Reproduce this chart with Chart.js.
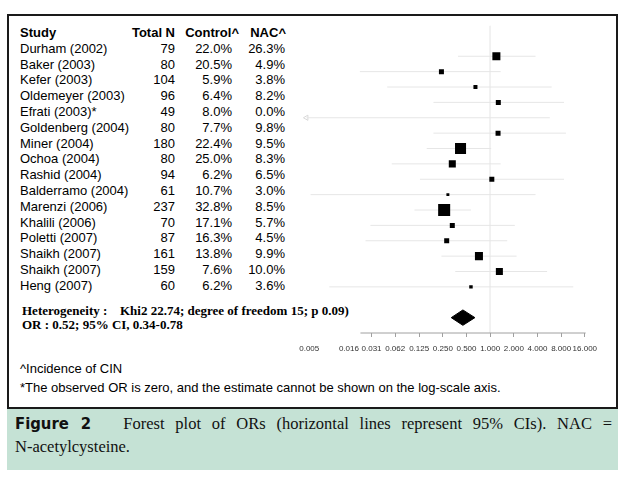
<!DOCTYPE html>
<html>
<head>
<meta charset="utf-8">
<script src="https://cdn.jsdelivr.net/npm/chart.js@4/dist/chart.umd.min.js"></script>
<style>
  body { margin: 0; background: #fff; width: 633px; height: 486px; position: relative; overflow: hidden; }
  #frame { position: absolute; left: 7px; top: 14px; width: 607px; height: 391px; border: 2px solid #1a1a1a; }
  .t { position: absolute; font: 13px "Liberation Sans", Arial, sans-serif; color: #000; line-height: 16px; white-space: nowrap; }
  .b { font-weight: bold; }
  .r { text-align: right; }
  .het { position: absolute; font: bold 13px "Liberation Serif", "Times New Roman", serif; line-height: 14px; white-space: nowrap; }
  #caption { position: absolute; left: 7px; top: 409px; width: 611px; height: 61px; background: #c5e2d5; }
  #captext { position: absolute; left: 8px; top: 3px; width: 597px; font: 16.5px "Liberation Serif", "Times New Roman", serif; line-height: 23px; text-align: justify; color: #111; }
  #captext b { font-family: "Liberation Sans Narrow", "DejaVu Sans Condensed", "Liberation Sans", sans-serif; font-stretch: condensed; font-weight: bold; }
  .nw { white-space: nowrap; }
  #plot { position: absolute; left: 292px; top: 17px; }
</style>
</head>
<body>
<div id="frame"></div>
<div id="table"></div>
<div class="het" style="left:22px; top:304px;">Heterogeneity :</div>
<div class="het" style="left:120px; top:304px;">Khi2 22.74; degree of freedom 15; p 0.09)</div>
<div class="het" style="left:22px; top:318px;">OR : 0.52; 95% CI, 0.34-0.78</div>
<div class="t" style="left:20px; top:361px;">^Incidence of CIN</div>
<div class="t" style="left:20px; top:380px;">*The observed OR is zero, and the estimate cannot be shown on the log-scale axis.</div>
<div id="caption"><div id="captext"><b>Figure 2</b>&nbsp;&nbsp; Forest plot of ORs (horizontal lines represent 95% CIs). NAC = <span class="nw">N-acetylcysteine.</span></div></div>
<canvas id="plot" width="325" height="342"></canvas>
<script>
// Данные исследований
const studies = ['Durham (2002)', 'Baker (2003)', 'Kefer (2003)', 'Oldemeyer (2003)', 'Efrati (2003)*',
  'Goldenberg (2004)', 'Miner (2004)', 'Ochoa (2004)', 'Rashid (2004)', 'Balderramo (2004)',
  'Marenzi (2006)', 'Khalili (2006)', 'Poletti (2007)', 'Shaikh (2007)', 'Shaikh (2007)', 'Heng (2007)'];
const totalN = [79, 80, 104, 96, 49, 80, 180, 80, 94, 61, 237, 70, 87, 161, 159, 60];
const controlPct = [22.0, 20.5, 5.9, 6.4, 8.0, 7.7, 22.4, 25.0, 6.2, 10.7, 32.8, 17.1, 16.3, 13.8, 7.6, 6.2];
const nacPct = [26.3, 4.9, 3.8, 8.2, 0.0, 9.8, 9.5, 8.3, 6.5, 3.0, 8.5, 5.7, 4.5, 9.9, 10.0, 3.6];

// OR и 95% ДИ (Efrati: OR = 0, не показывается)
const oddsRatio = [1.20, 0.24, 0.65, 1.27, null, 1.26, 0.42, 0.33, 1.05, 0.29, 0.26, 0.33, 0.28, 0.72, 1.31, 0.57];
const ciLower = [0.39, 0.022, 0.049, 0.19, 0.0046, 0.19, 0.156, 0.056, 0.128, 0.0052, 0.109, 0.030, 0.026, 0.24, 0.36, 0.009];
const ciUpper = [3.78, 1.36, 6.06, 8.7, 5.74, 9.2, 1.03, 1.36, 8.7, 3.78, 0.57, 2.06, 1.65, 2.17, 5.3, 11.4];
const weights = [9.5, 3.7, 2.4, 3.7, 0, 3.7, 18.0, 7.3, 3.7, 1.3, 21.4, 3.7, 3.7, 9.5, 7.3, 1.8];

// Сводная оценка (ромб): нижняя граница, центр, верхняя граница
const pooled = [0.32, 0.45, 0.64];

const tickValues = [0.005, 0.016, 0.031, 0.062, 0.125, 0.25, 0.5, 1, 2, 4, 8, 16];
const tickLabels = ['0.005', '0.016', '0.031', '0.062', '0.125', '0.250', '0.500', '1.000', '2.000', '4.000', '8.000', '16.000'];
const axisRange = [0.0224, 16.4];

// Таблица слева
const rowTop = y => 48.7 + 15.8 * y - 8;
let html = '';
html += `<div class="t b" style="left:20px;top:${rowTop(-1)}px">Study</div>`;
html += `<div class="t b r" style="right:${633 - 175}px;top:${rowTop(-1)}px">Total N</div>`;
html += `<div class="t b r" style="right:${633 - 239}px;top:${rowTop(-1)}px">Control^</div>`;
html += `<div class="t b r" style="right:${633 - 286}px;top:${rowTop(-1)}px">NAC^</div>`;
studies.forEach((s, i) => {
  html += `<div class="t" style="left:20px;top:${rowTop(i)}px">${s}</div>`;
  html += `<div class="t r" style="right:${633 - 175}px;top:${rowTop(i)}px">${totalN[i]}</div>`;
  html += `<div class="t r" style="right:${633 - 232}px;top:${rowTop(i)}px">${controlPct[i].toFixed(1)}%</div>`;
  html += `<div class="t r" style="right:${633 - 285}px;top:${rowTop(i)}px">${nacPct[i].toFixed(1)}%</div>`;
});
document.getElementById('table').innerHTML = html;

const ciColor = '#e6e6e6';
const datasets = [];

// Линия OR = 1
datasets.push({
  type: 'line', order: 2, data: [{ x: 1, y: -2 }, { x: 1, y: 18 }],
  borderColor: '#efefef', borderWidth: 1, pointRadius: 0
});

// Доверительные интервалы
studies.forEach((s, i) => {
  datasets.push({
    type: 'line', order: 1, data: [{ x: ciLower[i], y: i }, { x: ciUpper[i], y: i }],
    borderColor: ciColor, borderWidth: 1, pointRadius: 0
  });
});

// Стрелка для Efrati
const efr = studies.indexOf('Efrati (2003)*');
datasets.push({
  type: 'scatter', order: 1, data: [{ x: ciLower[efr], y: efr }],
  pointStyle: 'triangle', rotation: -90, pointRadius: 3,
  backgroundColor: 'rgba(0,0,0,0)', borderColor: '#d8d8d8', borderWidth: 1
});

// Квадраты OR, размер по весу
const pts = [], radii = [];
oddsRatio.forEach((v, i) => {
  if (v === null) return;
  pts.push({ x: v, y: i });
  radii.push(2.6 * Math.sqrt(weights[i]) / Math.SQRT2);
});
datasets.push({
  type: 'scatter', order: 0, data: pts, pointStyle: 'rect', pointRadius: radii,
  backgroundColor: '#000', borderColor: '#000', borderWidth: 0
});

// Ромб сводной оценки
const dy = studies.length + 1;
datasets.push({
  type: 'line', order: 0,
  data: [{ x: pooled[0], y: dy }, { x: pooled[1], y: dy - 0.5 }, { x: pooled[2], y: dy },
         { x: pooled[1], y: dy + 0.5 }, { x: pooled[0], y: dy }],
  borderColor: '#000', borderWidth: 1, backgroundColor: '#000', fill: 'shape', pointRadius: 0, tension: 0
});

// Ось X
datasets.push({
  type: 'line', order: 1, data: [{ x: axisRange[0], y: 18 }, { x: axisRange[1], y: 18 }],
  borderColor: '#a0a0a0', borderWidth: 1, pointRadius: 0, clip: false
});

new Chart(document.getElementById('plot'), {
  type: 'scatter',
  data: { datasets },
  options: {
    responsive: false,
    animation: false,
    devicePixelRatio: 1,
    layout: { padding: 0 },
    plugins: { legend: { display: false }, tooltip: { enabled: false } },
    scales: {
      x: {
        type: 'logarithmic', min: Math.pow(2, -8), max: 32,
        afterBuildTicks: scale => { scale.ticks = tickValues.map(v => ({ value: v })); },
        afterFit: scale => { scale.height = 26; },
        border: { display: false },
        grid: {
          drawOnChartArea: false, drawTicks: true, tickLength: 4,
          color: c => (c.tick && c.tick.value < 0.02) ? 'rgba(0,0,0,0)' : '#a0a0a0'
        },
        ticks: {
          autoSkip: false, maxRotation: 0, minRotation: 0, padding: 7,
          color: '#333', font: { family: 'Liberation Sans', size: 8 },
          callback: (v, i) => tickLabels[i]
        }
      },
      y: { type: 'linear', reverse: true, min: -2, max: 18, display: false }
    }
  }
});
</script>
</body>
</html>
